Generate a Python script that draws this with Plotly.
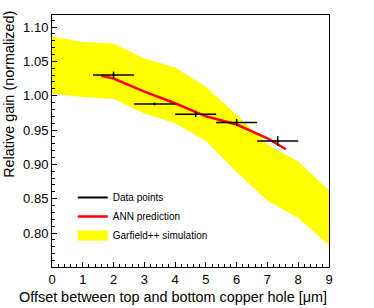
import plotly.graph_objects as go

# ---- data ----
offset_um = [2.0, 3.333, 4.667, 6.0, 7.333]
offset_err = [0.667, 0.667, 0.667, 0.667, 0.667]
gain_data = [1.030, 0.988, 0.973, 0.961, 0.934]
gain_err = [0.005, 0.002, 0.004, 0.005, 0.007]

ann_x = [1.6, 2.0, 3.0, 4.0, 5.0, 6.0, 7.0, 7.6]
ann_y = [1.029, 1.025, 1.006, 0.989, 0.970, 0.958, 0.938, 0.922]

sim_x = [0, 1, 2, 3, 4, 5, 6, 7, 8, 9]
sim_upper = [1.086, 1.078, 1.076, 1.054, 1.041, 1.013, 0.972, 0.929, 0.904, 0.862]
sim_lower = [1.003, 0.998, 0.995, 0.974, 0.960, 0.934, 0.889, 0.847, 0.822, 0.782]

x_ticks = [0, 1, 2, 3, 4, 5, 6, 7, 8, 9]

FONT = "Liberation Sans, Arial, Helvetica, sans-serif"

fig = go.Figure()

# simulation band
fig.add_trace(go.Scatter(
    x=sim_x + sim_x[::-1],
    y=sim_upper + sim_lower[::-1],
    fill="toself", fillcolor="#ffff00",
    line=dict(width=0, color="#ffff00"),
    mode="lines", showlegend=False, hoverinfo="skip",
))

# ANN prediction
fig.add_trace(go.Scatter(
    x=ann_x, y=ann_y, mode="lines",
    line=dict(color="#ff0000", width=2.5),
    name="ANN prediction", legendrank=2,
))

# data points (error-bar crosses)
fig.add_trace(go.Scatter(
    x=offset_um, y=gain_data, mode="markers",
    marker=dict(size=2, color="black"),
    error_x=dict(type="data", array=offset_err, color="black", thickness=1.5, width=0),
    error_y=dict(type="data", array=gain_err, color="black", thickness=1.5, width=0),
    showlegend=False,
))

# legend entries
fig.add_trace(go.Scatter(
    x=[None], y=[None], mode="lines",
    line=dict(color="black", width=2),
    name="Data points", legendrank=1,
))
fig.add_trace(go.Scatter(
    x=[None], y=[None], mode="lines",
    line=dict(color="#ffff00", width=13),
    name="Garfield++ simulation", legendrank=3,
))

axis_common = dict(
    showgrid=False, zeroline=False,
    showline=True, linecolor="black", linewidth=1, mirror=True,
    ticks="inside", tickcolor="black", ticklen=5, tickwidth=1,
    tickfont=dict(family=FONT, size=13, color="black"),
)

fig.update_xaxes(
    range=[0, 9], tickvals=x_ticks,
    minor=dict(dtick=0.2, tick0=0, ticks="inside", ticklen=3, tickcolor="black"),
    **axis_common,
)
fig.update_yaxes(
    range=[0.7505, 1.1175], tickmode="linear", tick0=0.8, dtick=0.05,
    tickformat=".2f",
    minor=dict(dtick=0.01, tick0=0.75, ticks="inside", ticklen=3, tickcolor="black"),
    **axis_common,
)

fig.update_layout(
    width=374, height=308,
    margin=dict(l=52, r=45, t=15, b=41),
    paper_bgcolor="white", plot_bgcolor="white",
    font=dict(family=FONT, color="black"),
    legend=dict(
        x=0.075, y=0.333, xanchor="left", yanchor="top",
        bgcolor="rgba(0,0,0,0)", font=dict(family=FONT, size=10, color="black"),
        itemwidth=30, traceorder="normal",
    ),
    annotations=[
        dict(text="Offset between top and bottom copper hole [\u03bcm]",
             xref="paper", yref="paper", x=1, y=-0.119,
             xanchor="right", yanchor="middle", showarrow=False,
             font=dict(family=FONT, size=14.4, color="black")),
        dict(text="Relative gain (normalized)",
             xref="paper", yref="paper", x=-0.153, y=1.025,
             xanchor="center", yanchor="top", textangle=-90, showarrow=False,
             font=dict(family=FONT, size=14.4, color="black")),
    ],
)

fig.write_html("out.html", config={"displayModeBar": False},
               post_script="document.body.style.margin='0';")
